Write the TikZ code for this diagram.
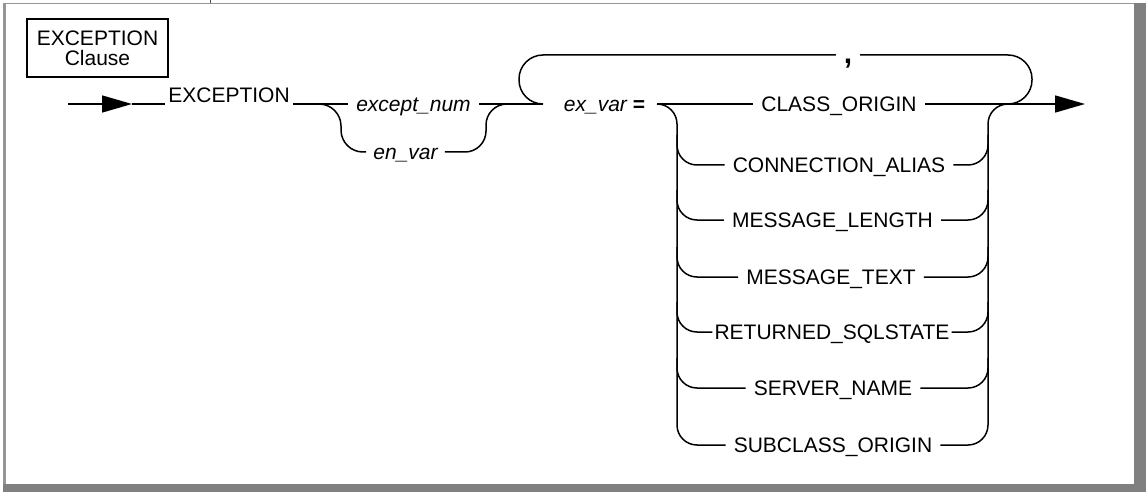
\documentclass[tikz,border=0pt]{standalone}
\usepackage{fontspec}
\setmainfont{Liberation Sans}
\usetikzlibrary{arrows.meta}
\definecolor{framegray}{RGB}{128,128,128}
\definecolor{edgegray}{RGB}{150,150,150}

\begin{document}
\begin{tikzpicture}[x=1pt,y=-1pt,>={Triangle[length=30pt,width=17pt]},
    rail/.style={line width=1.5pt,rounded corners=20pt},
    word/.style={font=\fontsize{21}{20}\selectfont,inner ysep=0pt,inner xsep=8pt,text height=15pt,text depth=0pt},
    var/.style={word,font=\fontsize{21}{20}\selectfont\itshape}]
        \useasboundingbox (0,0) rectangle (1146,492);
        % frame
        \fill[framegray] (1134,3) rectangle (1146,492);
        \fill[framegray] (3,484) rectangle (1146,492);
        \draw[edgegray,line width=1.5pt] (3,3.3) -- (1134,3.3);
        \draw[edgegray,line width=3pt] (4.5,3) -- (4.5,484);
        \draw[black!70,line width=1pt] (210,0) -- (210,3);
        % title
        \node[draw,line width=2.2pt,minimum width=141pt,minimum height=58pt,inner sep=0pt,align=center,font=\fontsize{21}{20}\selectfont] (title) at (97.5,48) {EXCEPTION\\Clause};
        % labels
        \node[word,inner xsep=3pt] (kw) at (229,95.5) {EXCEPTION};
        \node[var,inner xsep=8.5pt] (num) at (413.5,104) {except\_num};
        \node[var,inner xsep=7pt] (env) at (405.5,152) {en\_var};
        \node[var,inner xsep=0pt] (exv) at (604.5,104) {ex\_var {\upshape\bfseries =}};
        \node[font=\fontsize{30}{30}\selectfont\bfseries,inner sep=0pt,minimum width=24pt,anchor=base] (comma) at (848,64) {,};
        \node[word] (cls) at (839,104) {CLASS\_ORIGIN};
        \node[word] (con) at (839,165) {CONNECTION\_ALIAS};
        \node[word] (len) at (832.5,220) {MESSAGE\_LENGTH};
        \node[word] (txt) at (831,277) {MESSAGE\_TEXT};
        \node[word,inner xsep=2pt] (ret) at (832,332) {RETURNED\_SQLSTATE};
        \node[word] (srv) at (833,388) {SERVER\_NAME};
        \node[word] (sub) at (833,445) {SUBCLASS\_ORIGIN};
        % junctions
        \coordinate (start) at (68,104);
        \coordinate (inarr) at (132,104);
        \coordinate (sb) at (319,104);
        \coordinate (sm) at (507,104);
        \coordinate (lj) at (543,104);
        \coordinate (bl) at (657,104);
        \coordinate (lrail) at (677,104);
        \coordinate (rrail) at (988,104);
        \coordinate (br) at (1008,104);
        \coordinate (tip) at (1085,104);
        \coordinate (lt) at (519,55);
        \coordinate (rt) at (1032,55);
        % main line
        \draw[->,line width=1.5pt] (start) -- (inarr);
        \draw[rail] (inarr) -- (inarr -| kw.west);
        \draw[rail] (kw.east |- sb) -- (num.west);
        \draw[rail,rounded corners=22pt] (sb) -- (341,104) -- (341,152) -- (env.west);
        \draw[rail,rounded corners=21pt] (env.east) -- (486,152) -- (486,104) -- (sm);
        \draw[rail] (num.east) -- (lj);
        \draw[rail,rounded corners=24pt] (lj) -- (519,104) -- (lt) -- (lt -| comma.west);
        \draw[rail,rounded corners=24pt] (lt -| comma.east) -- (rt) -- (1032,104) -- (br);
        \draw[rail] (bl) -- (cls.west);
        \draw[rail,->] (cls.east) -- (tip);
        % choices
        \draw[rail] (bl) -- (lrail) |- (sub.west);
        \draw[rail] (sub.east) -| (rrail) -- (br);
        \draw[rail] ([yshift=30pt]con.west -| lrail) |- (con.west);
        \draw[rail] (con.east) -| ([yshift=30pt]con.east -| rrail);
        \draw[rail] ([yshift=30pt]len.west -| lrail) |- (len.west);
        \draw[rail] (len.east) -| ([yshift=30pt]len.east -| rrail);
        \draw[rail] ([yshift=30pt]txt.west -| lrail) |- (txt.west);
        \draw[rail] (txt.east) -| ([yshift=30pt]txt.east -| rrail);
        \draw[rail] ([yshift=30pt]ret.west -| lrail) |- (ret.west);
        \draw[rail] (ret.east) -| ([yshift=30pt]ret.east -| rrail);
        \draw[rail] ([yshift=30pt]srv.west -| lrail) |- (srv.west);
        \draw[rail] (srv.east) -| ([yshift=30pt]srv.east -| rrail);
    \end{tikzpicture}
\end{document}
